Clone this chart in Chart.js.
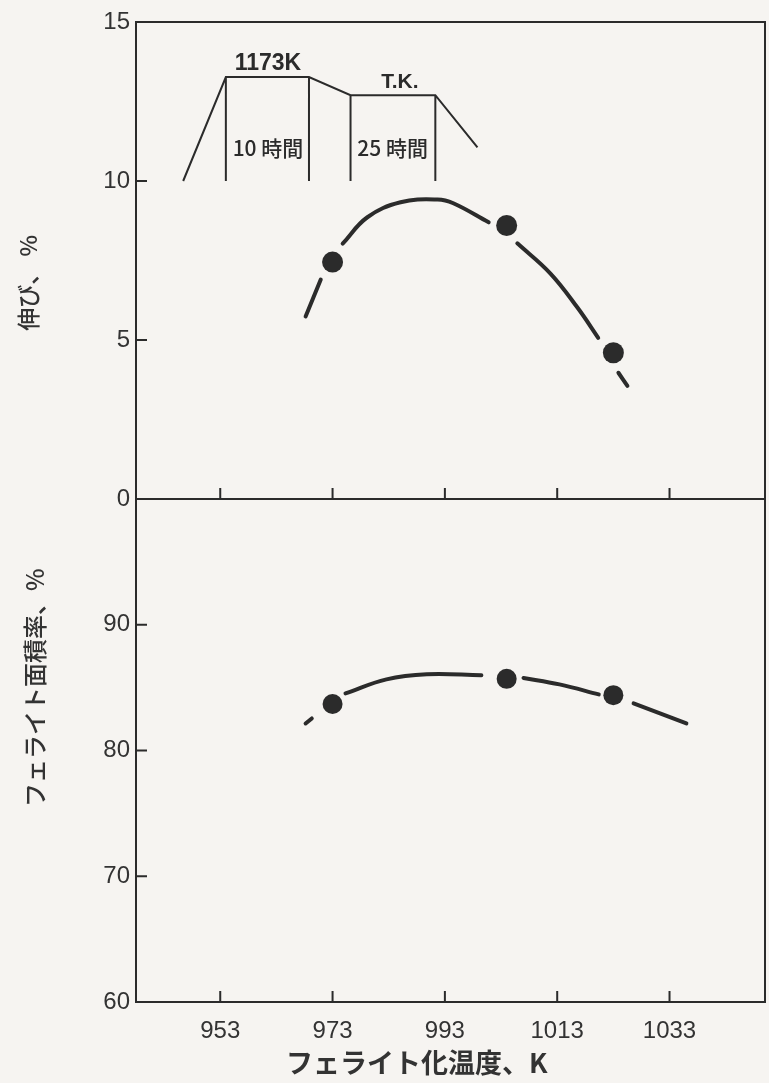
<!DOCTYPE html>
<html lang="ja">
<head>
<meta charset="UTF-8">
<title>フェライト化温度と伸び・フェライト面積率</title>
<script src="https://cdn.jsdelivr.net/npm/chart.js"></script>
<style>
  html, body { margin: 0; padding: 0; background: #f6f4f1; }
</style>
</head>
<body>
<canvas id="chart" width="769" height="1083"></canvas>
<script>
// measured points
const tempK = [973, 1004, 1023];
const elongation = [7.45, 8.6, 4.6];
const ferriteArea = [83.7, 85.7, 84.4];

// hand-drawn curves (null = gap around a marker)
const elongCurveK = [968.2, 970.9, 972, 974.8, 979.2, 985.1, 991.7, 994.5, 1000.8, 1003, 1005.9, 1011.8, 1016.6, 1020.3, 1022, 1023.9, 1025.5];
const elongCurveV = [5.74, 6.90, null, 8.03, 8.86, 9.33, 9.42, 9.30, 8.70, null, 8.04, 7.09, 6.02, 5.07, null, 3.97, 3.56];
const ferriteCurveK = [968.2, 969.3, 972, 975.3, 982.6, 989.8, 999.5, 1003, 1007.0, 1013.4, 1020.4, 1023, 1026.6, 1036.0];
const ferriteCurveV = [82.15, 82.55, null, 84.54, 85.66, 86.06, 85.98, null, 85.77, 85.26, 84.46, null, 83.75, 82.15];

// heat treatment sketch in the upper panel
const recipeK = [946.4, 954.0, 968.8, 976.2, 991.3, 998.8];
const recipeV = [10.0, 13.27, 13.27, 12.7, 12.7, 11.06];
const recipeWalls = [1, 2, 3, 4]; // indexes that get a vertical line down to 10
const recipeLabels = [
  { text: '1173K', k: 961.5, v: 13.7, font: "bold 23px 'Liberation Sans', sans-serif" },
  { text: 'T.K.', k: 985.0, v: 13.1, font: "bold 21px 'Liberation Sans', sans-serif" },
  { text: '10 時間', k: 961.5, v: 11.05, font: "500 21px 'Noto Sans CJK JP', sans-serif" },
  { text: '25 時間', k: 983.7, v: 11.05, font: "500 21px 'Noto Sans CJK JP', sans-serif" }
];

// ticks and titles
const xTicks = [953, 973, 993, 1013, 1033];
const topTicks = [0, 5, 10, 15];
const bottomTicks = [60, 70, 80, 90];
const xTitle = 'フェライト化温度、K';
const topTitle = '伸び、 %';
const bottomTitle = 'フェライト面積率、%';

const ink = '#2b2b2b';
const numFont = "'Liberation Sans', Arial, sans-serif";
const jpFont = "'Noto Sans CJK JP', sans-serif";

function pts(xs, ys) {
  return xs.map((x, i) => ({ x: x, y: ys[i] }));
}

function recipeData() {
  const d = pts(recipeK, recipeV);
  recipeWalls.forEach(i => {
    d.push({ x: recipeK[i], y: null });
    d.push({ x: recipeK[i], y: recipeV[i] });
    d.push({ x: recipeK[i], y: 10 });
  });
  return d;
}

function vText(ctx, text, cx, cy) {
  ctx.save();
  ctx.translate(cx, cy);
  ctx.rotate(-Math.PI / 2);
  ctx.fillText(text, 0, 0);
  ctx.restore();
}

const framePlugin = {
  id: 'frame',
  beforeDraw(chart) {
    const ctx = chart.ctx;
    ctx.save();
    ctx.fillStyle = '#f6f4f1';
    ctx.fillRect(0, 0, chart.width, chart.height);
    ctx.restore();
  },
  afterDatasetsDraw(chart) {
    const ctx = chart.ctx;
    const a = chart.chartArea;
    const x = chart.scales.x, yT = chart.scales.yTop, yB = chart.scales.yBot;
    const mid = yT.getPixelForValue(0);
    ctx.save();
    ctx.strokeStyle = ink;
    ctx.lineWidth = 2;
    ctx.strokeRect(a.left, a.top, a.right - a.left, a.bottom - a.top);
    ctx.beginPath();
    ctx.moveTo(a.left, mid);
    ctx.lineTo(a.right, mid);
    // inward ticks
    xTicks.forEach(v => {
      const px = x.getPixelForValue(v);
      ctx.moveTo(px, mid); ctx.lineTo(px, mid - 11);
      ctx.moveTo(px, a.bottom); ctx.lineTo(px, a.bottom - 11);
    });
    topTicks.forEach(v => {
      const py = yT.getPixelForValue(v);
      ctx.moveTo(a.left, py); ctx.lineTo(a.left + 11, py);
    });
    bottomTicks.forEach(v => {
      const py = yB.getPixelForValue(v);
      ctx.moveTo(a.left, py); ctx.lineTo(a.left + 11, py);
    });
    ctx.stroke();
    ctx.fillStyle = ink;
    ctx.textAlign = 'center';
    ctx.textBaseline = 'middle';
    // sketch labels
    recipeLabels.forEach(l => {
      ctx.font = l.font;
      ctx.fillText(l.text, x.getPixelForValue(l.k), yT.getPixelForValue(l.v));
    });
    // axis titles (placed as in the figure, not centred on the panels)
    ctx.fillStyle = '#333';
    ctx.font = "500 23px " + jpFont;
    vText(ctx, topTitle, 28, yT.getPixelForValue(6.8));
    ctx.font = "500 24px " + jpFont;
    vText(ctx, bottomTitle, 35, yB.getPixelForValue(85));
    ctx.font = "bold 27px " + jpFont;
    ctx.fillText(xTitle, x.getPixelForValue(988), 1063);
    ctx.restore();
  }
};

Chart.defaults.font.family = numFont;
Chart.defaults.color = '#333';

const yTickOpts = { font: { size: 24 }, padding: 6, callback: v => String(v) };

new Chart(document.getElementById('chart'), {
  type: 'line',
  data: {
    datasets: [
      {
        data: pts(tempK, elongation), xAxisID: 'x', yAxisID: 'yTop',
        showLine: false, pointRadius: 10.5, pointBackgroundColor: ink, pointBorderWidth: 0, order: 0
      },
      {
        data: pts(elongCurveK, elongCurveV), xAxisID: 'x', yAxisID: 'yTop',
        borderColor: ink, borderWidth: 4, pointRadius: 0, tension: 0.4, spanGaps: false,
        borderCapStyle: 'round', order: 1
      },
      {
        data: recipeData(), xAxisID: 'x', yAxisID: 'yTop',
        borderColor: ink, borderWidth: 2, pointRadius: 0, tension: 0, spanGaps: false, order: 2
      },
      {
        data: pts(tempK, ferriteArea), xAxisID: 'x', yAxisID: 'yBot',
        showLine: false, pointRadius: 10, pointBackgroundColor: ink, pointBorderWidth: 0, order: 0
      },
      {
        data: pts(ferriteCurveK, ferriteCurveV), xAxisID: 'x', yAxisID: 'yBot',
        borderColor: ink, borderWidth: 4, pointRadius: 0, tension: 0.4, spanGaps: false,
        borderCapStyle: 'round', order: 1
      }
    ]
  },
  options: {
    responsive: false,
    animation: false,
    events: [],
    layout: { autoPadding: false, padding: { top: 22, right: 4, bottom: 0, left: 0 } },
    plugins: { legend: { display: false }, tooltip: { enabled: false } },
    scales: {
      x: {
        type: 'linear', position: 'bottom', min: 938, max: 1050,
        afterBuildTicks: s => { s.ticks = xTicks.map(v => ({ value: v })); },
        afterFit: s => { s.height = 81; },
        grid: { display: false, drawTicks: false }, border: { display: false },
        ticks: { font: { size: 24 }, padding: 15, maxRotation: 0, autoSkip: false, callback: v => String(v) }
      },
      yBot: {
        type: 'linear', position: 'left', stack: 'panels', stackWeight: 503,
        min: 60, max: 100,
        afterBuildTicks: s => { s.ticks = bottomTicks.map(v => ({ value: v })); },
        afterFit: s => { s.width = 136; },
        grid: { display: false, drawTicks: false }, border: { display: false },
        ticks: yTickOpts
      },
      yTop: {
        type: 'linear', position: 'left', stack: 'panels', stackWeight: 477,
        min: 0, max: 15,
        afterBuildTicks: s => { s.ticks = topTicks.map(v => ({ value: v })); },
        afterFit: s => { s.width = 136; },
        grid: { display: false, drawTicks: false }, border: { display: false },
        ticks: yTickOpts
      }
    }
  },
  plugins: [framePlugin]
});
</script>
</body>
</html>
